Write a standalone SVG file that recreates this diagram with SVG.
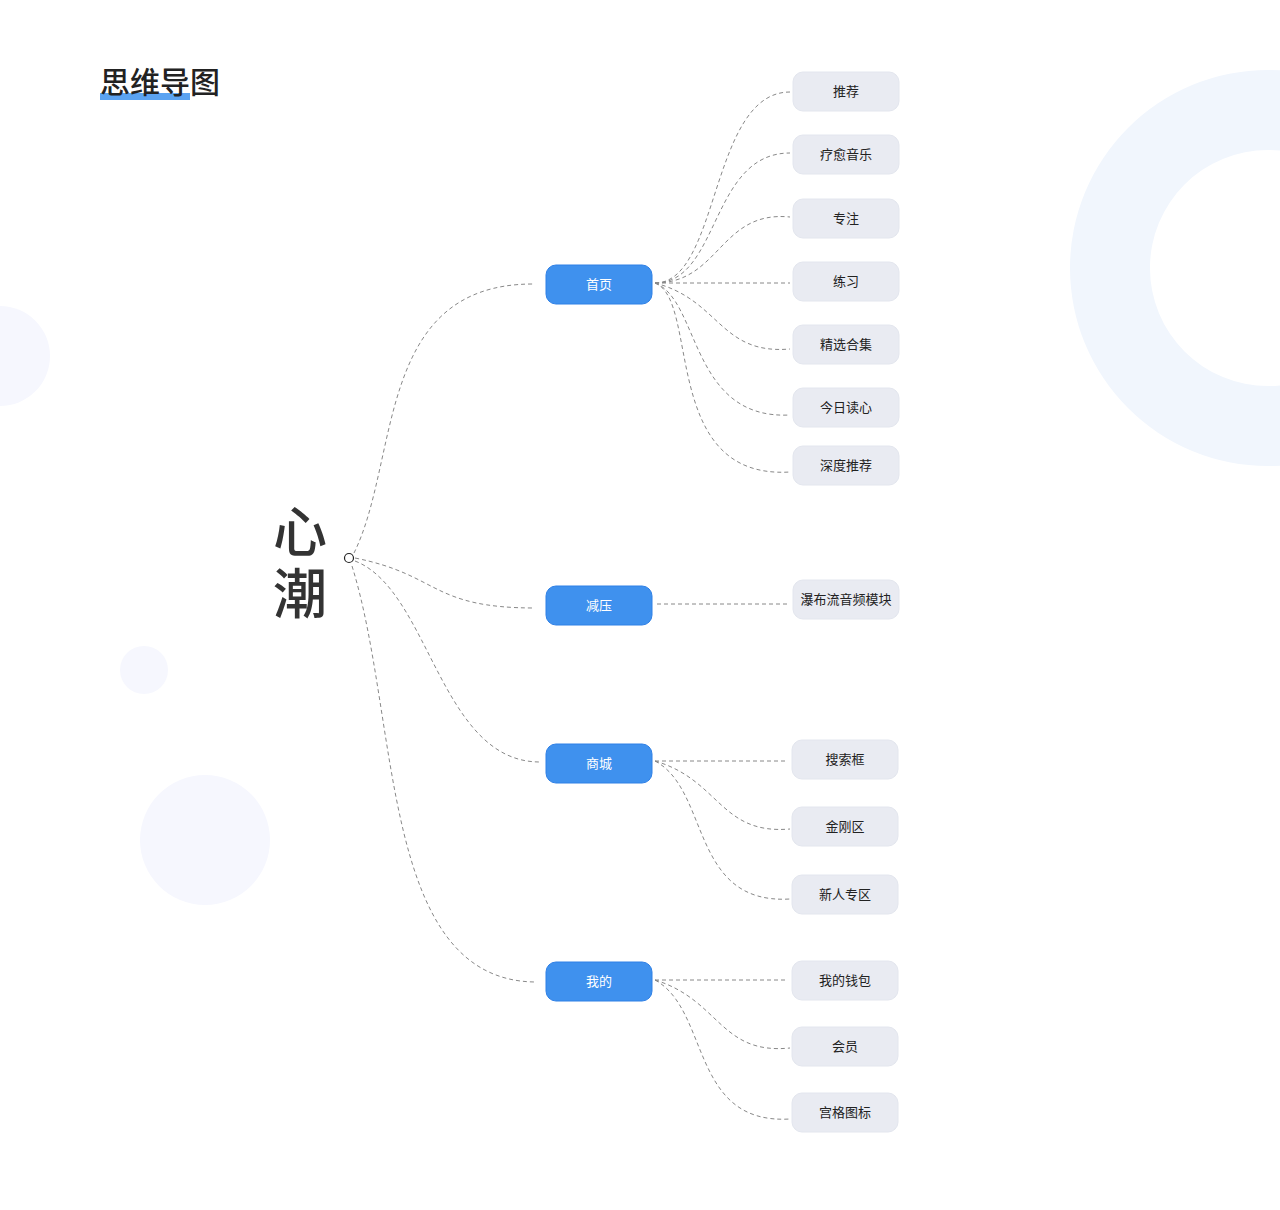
<svg xmlns="http://www.w3.org/2000/svg" width="1280" height="1210" viewBox="0 0 1280 1210">
<style>
.b rect{fill:#3f91ee;stroke:#2f80e6;stroke-width:1}
.b text{fill:#fff;font-size:13px}
.g rect{fill:#e9ebf2;stroke:#e3e6ee;stroke-width:1}
.g text{fill:#222;font-size:13px}
text{font-family:"Noto Sans CJK SC","Noto Sans",sans-serif;text-anchor:middle}
#links path{fill:none;stroke:#888;stroke-width:1;stroke-dasharray:4 3}
</style>
<rect width="1280" height="1210" fill="#fff"/>
<g id="deco">
<path d="M1268,70 A198,198 0 1,0 1268,466 A198,198 0 1,0 1268,70 Z M1268,150 A118,118 0 1,1 1268,386 A118,118 0 1,1 1268,150 Z" fill="#f1f6fd" fill-rule="evenodd"/>
<circle cx="0" cy="356" r="50" fill="#f6f7fe"/>
<circle cx="144" cy="670" r="24" fill="#f6f7fe"/>
<circle cx="205" cy="840" r="65" fill="#f6f7fe"/>
</g>
<g id="title">
<rect x="100" y="93" width="90" height="7" fill="#5ba3f1"/>
<text x="160" y="93" font-size="30" font-weight="500" fill="#222">思维导图</text>
</g>
<g id="links">
<path d="M354,553 C400,460 375,284 533,284"/>
<path d="M355,558 C440,575 430,608 535,608"/>
<path d="M355,561 C430,590 440,762 540,762"/>
<path d="M352,566 C400,720 380,980 535,982"/>
<path d="M655,283 C720,283 710,92 790,92"/>
<path d="M655,283 C720,283 710,153 790,153"/>
<path d="M655,283 C720,283 720,210 790,217"/>
<path d="M655,283 L790,283"/>
<path d="M655,283 C720,300 720,355 790,349"/>
<path d="M655,283 C700,300 690,420 790,415"/>
<path d="M655,283 C700,300 660,480 790,472"/>
<path d="M657,604 L790,604"/>
<path d="M655,761 L788,761"/>
<path d="M655,761 C720,780 720,835 790,829"/>
<path d="M655,761 C710,790 690,905 790,899"/>
<path d="M655,980 L788,980"/>
<path d="M655,980 C720,1000 720,1055 790,1048"/>
<path d="M655,980 C710,1010 690,1125 790,1119"/>
</g>
<circle cx="349" cy="558" r="4.5" fill="#fff" stroke="#222" stroke-width="1.2"/>
<g id="root"><text x="300" y="552" font-size="54" font-weight="500" fill="#333">心</text><text x="300" y="614" font-size="54" font-weight="500" fill="#333">潮</text></g>
<g id="n-home" class="b"><rect x="546" y="265" width="106" height="39" rx="10"/><text x="599" y="289">首页</text></g>
<g id="n-relax" class="b"><rect x="546" y="586" width="106" height="39" rx="10"/><text x="599" y="610">减压</text></g>
<g id="n-mall" class="b"><rect x="546" y="744" width="106" height="39" rx="10"/><text x="599" y="768">商城</text></g>
<g id="n-mine" class="b"><rect x="546" y="962" width="106" height="39" rx="10"/><text x="599" y="986">我的</text></g>
<g id="c1" class="g"><rect x="793" y="72" width="106" height="39" rx="10"/><text x="846" y="96">推荐</text></g>
<g id="c2" class="g"><rect x="793" y="135" width="106" height="39" rx="10"/><text x="846" y="159">疗愈音乐</text></g>
<g id="c3" class="g"><rect x="793" y="199" width="106" height="39" rx="10"/><text x="846" y="223">专注</text></g>
<g id="c4" class="g"><rect x="793" y="262" width="106" height="39" rx="10"/><text x="846" y="286">练习</text></g>
<g id="c5" class="g"><rect x="793" y="325" width="106" height="39" rx="10"/><text x="846" y="349">精选合集</text></g>
<g id="c6" class="g"><rect x="793" y="388" width="106" height="39" rx="10"/><text x="846" y="412">今日读心</text></g>
<g id="c7" class="g"><rect x="793" y="446" width="106" height="39" rx="10"/><text x="846" y="470">深度推荐</text></g>
<g id="c8" class="g"><rect x="793" y="580" width="106" height="39" rx="10"/><text x="846" y="604">瀑布流音频模块</text></g>
<g id="c9" class="g"><rect x="792" y="740" width="106" height="39" rx="10"/><text x="845" y="764">搜索框</text></g>
<g id="c10" class="g"><rect x="792" y="807" width="106" height="39" rx="10"/><text x="845" y="831">金刚区</text></g>
<g id="c11" class="g"><rect x="792" y="875" width="106" height="39" rx="10"/><text x="845" y="899">新人专区</text></g>
<g id="c12" class="g"><rect x="792" y="961" width="106" height="39" rx="10"/><text x="845" y="985">我的钱包</text></g>
<g id="c13" class="g"><rect x="792" y="1027" width="106" height="39" rx="10"/><text x="845" y="1051">会员</text></g>
<g id="c14" class="g"><rect x="792" y="1093" width="106" height="39" rx="10"/><text x="845" y="1117">宫格图标</text></g>
</svg>
